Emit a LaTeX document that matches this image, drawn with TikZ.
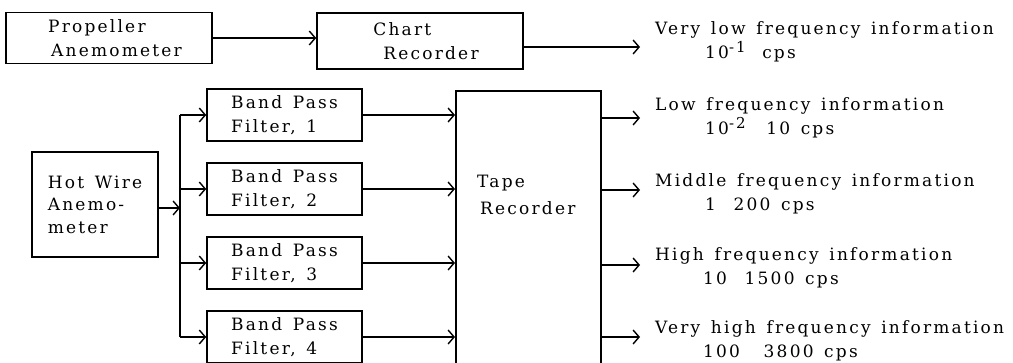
\documentclass[tikz,border=0pt]{standalone}
\usepackage{fontspec}
\setmainfont{DejaVu Serif}[LetterSpace=13, WordSpace=1.4]
\usetikzlibrary{arrows.meta}
\newcommand{\supx}[1]{\raisebox{6pt}{\fontsize{15}{15}\selectfont #1}}
\begin{document}
\begin{tikzpicture}[x=1pt,y=-1pt,
  txt/.style={font=\fontsize{17}{24}\selectfont},
  box/.style={draw, line width=1.6pt, inner sep=0pt, txt},
  filt/.style={box, minimum width=155pt, minimum height=52pt, align=left},
  lab/.style={anchor=base west, inner sep=0pt, txt},
  arr/.style={-{Straight Barb[length=6pt,width=14pt,line width=1.4pt]}, line width=1.4pt},
  ln/.style={line width=1.4pt}]
\clip (0,0) rectangle (1013,363);
\fill[white] (0,0) rectangle (1013,363);
% boxes
\node[box, minimum width=206pt, minimum height=51pt, align=left] (prop) at (109,38) {\hspace*{12pt}Propeller\\\hspace*{15pt}Anemometer};
\node[box, minimum width=206pt, minimum height=56pt, align=left] (chart) at (420,41) {\hspace*{12pt}Chart\\\hspace*{22pt}Recorder};
\node[box, minimum width=126pt, minimum height=105pt, align=left, font=\fontsize{17}{22.5}\selectfont] (hot) at (95,204.5) {Hot Wire\\Anemo-\\meter};
\node[filt] (f1) at (284.5,115) {Band Pass\\Filter, 1};
\node[filt] (f2) at (284.5,189) {Band Pass\\Filter, 2};
\node[filt] (f3) at (284.5,263) {Band Pass\\Filter, 3};
\node[filt] (f4) at (284.5,337) {Band Pass\\Filter, 4};
\node[box, minimum width=145pt, minimum height=300pt, anchor=north west] (tape) at (455,90) {};
\node[lab, anchor=base west] (tapetxt) at (477,188) {\vtop{\baselineskip=27pt\hbox{Tape}\hbox{\hspace*{3pt}Recorder}}};
% coordinates
\coordinate (hb) at (180,208);
\coordinate (b1) at (180,115);
\coordinate (b4) at (180,337);
\coordinate (o0) at (640,47);
\coordinate (o1) at (640,118);
\coordinate (o2) at (640,190);
\coordinate (o3) at (640,265);
\coordinate (o4) at (640,337);
% connectors
\draw[arr] (prop.east) -- (chart.west |- prop.east);
\draw[arr] (chart.east |- o0) -- (o0);
\draw[arr] (hot.east |- hb) -- (hb);
\draw[ln] (b1) -- (b4);
\draw[arr] (b1) -- (f1.west);
\draw[arr] (b1 |- f2.west) -- (f2.west);
\draw[arr] (b1 |- f3.west) -- (f3.west);
\draw[arr] (b4) -- (f4.west);
\draw[arr] (f1.east) -- (tape.west |- f1.east);
\draw[arr] (f2.east) -- (tape.west |- f2.east);
\draw[arr] (f3.east) -- (tape.west |- f3.east);
\draw[arr] (f4.east) -- (tape.west |- f4.east);
\draw[arr] (tape.east |- o1) -- (o1);
\draw[arr] (tape.east |- o2) -- (o2);
\draw[arr] (tape.east |- o3) -- (o3);
\draw[arr] (tape.east |- o4) -- (o4);
% labels
\node[lab] (l0) at (655,35) {\vtop{\hbox{Very low frequency information}\hbox{\hspace*{50pt}10\supx{-1}\hspace*{6pt} cps}}};
\node[lab] (l1) at (655,111) {\vtop{\hbox{Low frequency information}\hbox{\hspace*{50pt}10\supx{-2}\hspace*{10pt} 10 cps}}};
\node[lab] (l2) at (655,187) {\vtop{\hbox{Middle frequency information}\hbox{\hspace*{50pt}1\hspace*{7pt} 200 cps}}};
\node[lab] (l3) at (655,261) {\vtop{\hbox{High frequency information}\hbox{\hspace*{48pt}10\hspace*{7pt} 1500 cps}}};
\node[lab] (l4) at (655,334) {\vtop{\hbox{Very high frequency information}\hbox{\hspace*{48pt}100\hspace*{13pt} 3800 cps}}};
\end{tikzpicture}
\end{document}
